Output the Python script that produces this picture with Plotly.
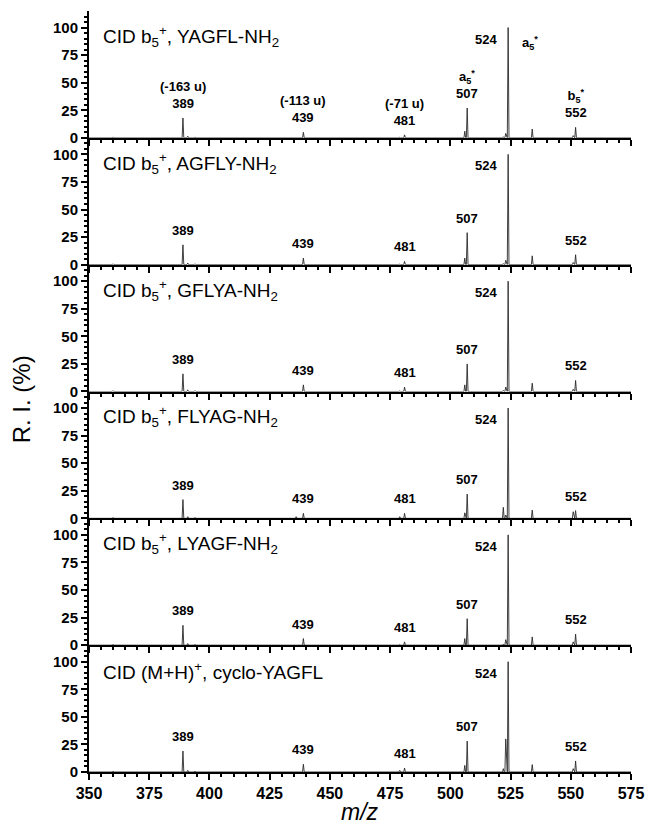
import plotly.graph_objects as go
from plotly.subplots import make_subplots

# ---------------- data ----------------
panel_titles = [
    "CID b<sub>5</sub><sup>+</sup>, YAGFL-NH<sub>2</sub>",
    "CID b<sub>5</sub><sup>+</sup>, AGFLY-NH<sub>2</sub>",
    "CID b<sub>5</sub><sup>+</sup>, GFLYA-NH<sub>2</sub>",
    "CID b<sub>5</sub><sup>+</sup>, FLYAG-NH<sub>2</sub>",
    "CID b<sub>5</sub><sup>+</sup>, LYAGF-NH<sub>2</sub>",
    "CID (M+H)<sup>+</sup>, cyclo-YAGFL",
]

peak_mz = [360, 389, 391, 394, 436, 439, 479, 481, 506, 507, 522, 523, 524, 534, 551, 552]

int_yagfl = [0.8, 18, 1.5, 0.8, 0.5, 5.0, 0.5, 2.7, 6, 27, 1, 4, 100, 8.0, 2, 9.5]
int_agfly = [0.8, 18, 1.5, 0.8, 0.5, 6.0, 0.5, 3.0, 6, 29, 1, 4, 100, 8.0, 2, 9.0]
int_gflya = [0.8, 16, 1.5, 0.8, 0.5, 6.0, 0.5, 4.0, 6, 25, 1, 4, 100, 7.5, 2, 10.0]
int_flyag = [0.8, 17, 1.5, 0.8, 1.5, 4.5, 1.5, 4.5, 5, 22, 10, 3, 100, 7.5, 6, 7.0]
int_lyagf = [0.8, 18, 1.5, 0.8, 0.5, 6.0, 0.5, 3.0, 6, 24, 1, 5, 100, 7.5, 3, 10.0]
int_cyclo = [0.8, 19, 1.5, 0.8, 0.5, 7.0, 1.5, 3.6, 6, 28, 3, 30, 100, 6.7, 3, 10.0]

intensities = [int_yagfl, int_agfly, int_gflya, int_flyag, int_lyagf, int_cyclo]

labelled_mz = [389, 439, 481, 507, 552]
label_text = ["389", "439", "481", "507", "552"]
base_peak_mz = 524
base_peak_label = "524"

# extra annotations of first panel (above the numeric labels)
loss_labels = {389: "(-163 u)", 439: "(-113 u)", 481: "(-71 u)",
               507: "a<sub>5</sub><sup>*</sup>", 552: "b<sub>5</sub><sup>*</sup>"}
a5_star_label = "a<sub>5</sub><sup>*</sup>"
a5_star_pos = (533, 86)

x_range = [350, 575]
y_range = [0, 115]

# ---------------- figure ----------------
FONT = "Liberation Sans, Arial, sans-serif"
HW = 0.35  # drawn half-width of a peak (m/z units)

fig = make_subplots(rows=6, cols=1, shared_xaxes=True, vertical_spacing=0)

for r, ints in enumerate(intensities, start=1):
    xs, ys = [x_range[0]], [0]
    for m, h in zip(peak_mz, ints):
        xs += [m - HW, m, m + HW]
        ys += [0, h, 0]
    xs.append(x_range[1]); ys.append(0)
    fig.add_trace(go.Scatter(x=xs, y=ys, mode="lines",
                             line=dict(color="#2a2a2a", width=0.9),
                             showlegend=False, hoverinfo="skip"), row=r, col=1)

    # panel title
    fig.add_annotation(x=355, y=92, xanchor="left", yanchor="middle",
                       text=panel_titles[r - 1], showarrow=False,
                       font=dict(family=FONT, size=19, color="black"),
                       row=r, col=1)

    # peak labels
    lookup = dict(zip(peak_mz, ints))
    for m, t in zip(labelled_mz, label_text):
        txt = t
        if r == 1 and m in loss_labels:
            txt = loss_labels[m] + "<br>" + t
        fig.add_annotation(x=m, y=lookup[m], xanchor="center", yanchor="bottom",
                           yshift=5, text="<b>" + txt + "</b>", showarrow=False,
                           font=dict(family=FONT, size=13, color="black"),
                           row=r, col=1)
    fig.add_annotation(x=base_peak_mz, y=lookup[base_peak_mz], xanchor="right",
                       yanchor="top", xshift=-9, yshift=-2,
                       text="<b>" + base_peak_label + "</b>", showarrow=False,
                       font=dict(family=FONT, size=13, color="black"),
                       row=r, col=1)
    if r == 1:
        fig.add_annotation(x=a5_star_pos[0], y=a5_star_pos[1], xanchor="center",
                           yanchor="middle", text="<b>" + a5_star_label + "</b>",
                           showarrow=False,
                           font=dict(family=FONT, size=13, color="black"),
                           row=r, col=1)

fig.update_xaxes(range=x_range, tick0=350, dtick=25, ticks="outside", ticklen=6,
                 tickwidth=2, tickcolor="black", showline=True, linewidth=2,
                 linecolor="black", showgrid=False, zeroline=False,
                 minor=dict(dtick=5, ticks="outside", ticklen=3, tickwidth=1.5,
                            tickcolor="black", showgrid=False),
                 tickfont=dict(family=FONT, size=16, color="black", weight="bold"))
fig.update_yaxes(range=y_range, tickvals=[0, 25, 50, 75, 100], ticks="outside",
                 ticklen=6, tickwidth=2, tickcolor="black", showline=True,
                 linewidth=2, linecolor="black", showgrid=False, zeroline=False,
                 minor=dict(tickvals=list(range(5, 115, 5)), ticks="outside",
                            ticklen=3, tickwidth=1.5, tickcolor="black",
                            showgrid=False),
                 tickfont=dict(family=FONT, size=15, color="black", weight="bold"))

fig.add_annotation(xref="paper", yref="paper", x=-0.125, y=0.49, textangle=-90,
                   text="R. I. (%)", showarrow=False, xanchor="center",
                   yanchor="middle", font=dict(family=FONT, size=24, color="black"))
fig.add_annotation(xref="paper", yref="paper", x=0.5, y=-0.052,
                   text="<i>m/z</i>", showarrow=False, xanchor="center",
                   yanchor="middle", font=dict(family=FONT, size=23, color="black"))

fig.update_layout(width=655, height=831,
                  margin=dict(l=89, r=14, t=11, b=59),
                  plot_bgcolor="white", paper_bgcolor="white",
                  showlegend=False)

fig.write_html("out.html")
